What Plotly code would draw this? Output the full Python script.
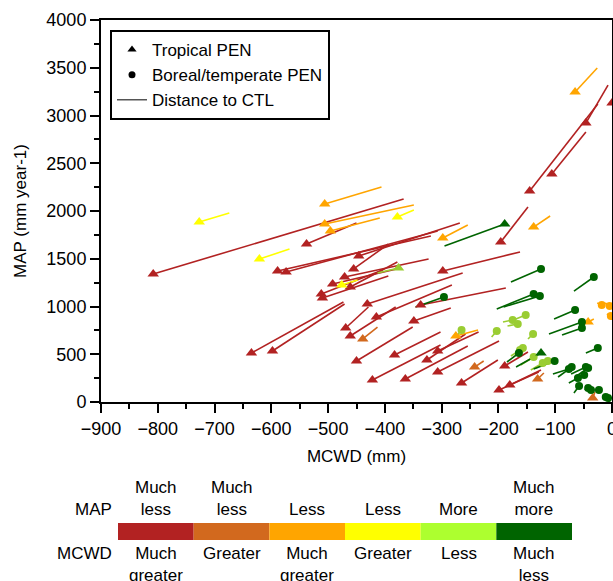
import plotly.graph_objects as go

# ---------------- data (PEN position and CTL position) ----------------
RED_TRI_X = [-808, -589, -574, -538, -446, -455, -471, -492, -461, -512, -510, -635, -598, -431, -415, -337, -349, -469,
             -461, -450, -383, -422, -364, -326, -307, -307, -265, -199, -180, -189, -196, -298, -145, -106, -46, 0]
RED_TRI_Y = [1340, 1372, 1361, 1654, 1529, 1393, 1309, 1236, 1204, 1131, 1089, 513, 534, 1026, 890, 1016, 848, 775,
             691, 429, 492, 230, 241, 440, 534, 314, 199, 126, 178, 377, 1675, 1372, 2209, 2387, 2921, 3131]
RED_TRI_X0 = [-367, -319, -307, -450, -268, -394, -323, -372, -378, -404, -394, -473, -471, -263, -282, -187, -284, -429,
              -381, -351, -302, -302, -254, -258, -235, -199, -201, -129, -125, -148, -148, -162, -25, -46, -7, 12]
RED_TRI_Y0 = [2126, 1738, 1791, 1874, 1874, 1654, 1497, 1403, 1466, 1382, 1319, 1047, 1026, 1351, 1225, 1194, 984, 995,
              995, 785, 733, 597, 586, 712, 733, 639, 440, 314, 335, 524, 2042, 1571, 3120, 2827, 3319, 3497]

CHOC_TRI_X = [-439, -242, -131, -34]
CHOC_TRI_Y = [660, 366, 241, 42]
CHOC_TRI_X0 = [-413, -226, -120, -30]
CHOC_TRI_Y0 = [785, 429, 304, 105]

ORANGE_TRI_X = [-506, -506, -496, -298, -138, -65, -275, -42]
ORANGE_TRI_Y = [2073, 1864, 1791, 1717, 1832, 3246, 691, 838]
ORANGE_TRI_X0 = [-406, -349, -409, -254, -109, -26, -236, -32]
ORANGE_TRI_Y0 = [2251, 2063, 1927, 1853, 1948, 3497, 754, 869]

ORANGE_CIRC_X = [-18, -4, -2]
ORANGE_CIRC_Y = [1016, 1005, 900]
ORANGE_CIRC_X0 = [-26, -12, -9]
ORANGE_CIRC_Y0 = [1037, 1037, 921]

YELLOW_TRI_X = [-727, -621, -378, -476]
YELLOW_TRI_Y = [1885, 1497, 1937, 1225]
YELLOW_TRI_X0 = [-674, -568, -349, -448]
YELLOW_TRI_Y0 = [1979, 1602, 2010, 1277]

LGREEN_TRI_X = [-376]
LGREEN_TRI_Y = [1403]
LGREEN_TRI_X0 = [-413]
LGREEN_TRI_Y0 = [1351]

LGREEN_CIRC_X = [-152, -175, -166, -265, -203, -139, -157, -162, -138, -113, -122]
LGREEN_CIRC_Y = [911, 859, 817, 754, 743, 712, 565, 544, 471, 429, 408]
LGREEN_CIRC_X0 = [-178, -192, -184, -275, -212, -148, -169, -178, -161, -134, -143]
LGREEN_CIRC_Y0 = [848, 838, 796, 681, 681, 660, 503, 482, 387, 356, 335]

DGREEN_TRI_X = [-189, -125]
DGREEN_TRI_Y = [1864, 513]
DGREEN_TRI_X0 = [-295, -169]
DGREEN_TRI_Y0 = [1633, 366]

DGREEN_CIRC_X = [-296, -125, -32, -138, -127, -65, -53, -53, -25, -164, -101, -71, -76, -46, -42, -60, -49, -58,
                 -42, -37, -23, -11, -7]
DGREEN_CIRC_Y = [1099, 1393, 1309, 1131, 1110, 963, 838, 775, 565, 513, 429, 366, 346, 366, 356, 251, 283, 168,
                 147, 126, 126, 52, 42]
DGREEN_CIRC_X0 = [-346, -178, -67, -203, -191, -102, -111, -88, -46, -185, -138, -95, -104, -72, -65, -76, -64, -67,
                  -48, -42, -28, -16, -12]
DGREEN_CIRC_Y0 = [995, 1257, 1162, 974, 995, 869, 712, 702, 513, 419, 346, 262, 293, 293, 262, 199, 220, 94,
                  126, 105, 105, 42, 31]

# colour key
KEY_COLORS = ["#B22222", "#D2691E", "#FFA500", "#FFFF00", "#ADFF2F", "#006400"]
MARK_COLORS = ["#B22222", "#D2691E", "#FFA500", "#FFFF00", "#9ACD32", "#006400"]
MAP_LABELS = ["Much<br>less", "Much<br>less", "Less", "Less", "More", "Much<br>more"]
MCWD_LABELS = ["Much<br>greater", "Greater", "Much<br>greater", "Greater", "Less", "Much<br>less"]

X_TICKS = [-900, -800, -700, -600, -500, -400, -300, -200, -100, 0]
Y_TICKS = [0, 500, 1000, 1500, 2000, 2500, 3000, 3500, 4000]

groups = [
    (RED_TRI_X, RED_TRI_Y, RED_TRI_X0, RED_TRI_Y0, "triangle-up", MARK_COLORS[0]),
    (CHOC_TRI_X, CHOC_TRI_Y, CHOC_TRI_X0, CHOC_TRI_Y0, "triangle-up", MARK_COLORS[1]),
    (ORANGE_TRI_X, ORANGE_TRI_Y, ORANGE_TRI_X0, ORANGE_TRI_Y0, "triangle-up", MARK_COLORS[2]),
    (ORANGE_CIRC_X, ORANGE_CIRC_Y, ORANGE_CIRC_X0, ORANGE_CIRC_Y0, "circle", MARK_COLORS[2]),
    (YELLOW_TRI_X, YELLOW_TRI_Y, YELLOW_TRI_X0, YELLOW_TRI_Y0, "triangle-up", MARK_COLORS[3]),
    (LGREEN_TRI_X, LGREEN_TRI_Y, LGREEN_TRI_X0, LGREEN_TRI_Y0, "triangle-up", MARK_COLORS[4]),
    (LGREEN_CIRC_X, LGREEN_CIRC_Y, LGREEN_CIRC_X0, LGREEN_CIRC_Y0, "circle", MARK_COLORS[4]),
    (DGREEN_TRI_X, DGREEN_TRI_Y, DGREEN_TRI_X0, DGREEN_TRI_Y0, "triangle-up", MARK_COLORS[5]),
    (DGREEN_CIRC_X, DGREEN_CIRC_Y, DGREEN_CIRC_X0, DGREEN_CIRC_Y0, "circle", MARK_COLORS[5]),
]

FONT = "Liberation Sans, Arial, sans-serif"
fig = go.Figure()

# distance lines
for xs, ys, x0s, y0s, sym, col in groups:
    lx, ly = [], []
    for a, b, c, d in zip(x0s, y0s, xs, ys):
        lx += [a, c, None]
        ly += [b, d, None]
    fig.add_trace(go.Scatter(x=lx, y=ly, mode="lines", line=dict(color=col, width=1.6),
                             showlegend=False, hoverinfo="skip"))

# PEN markers
for xs, ys, x0s, y0s, sym, col in groups:
    size = 10 if sym == "triangle-up" else 8
    fig.add_trace(go.Scatter(x=xs, y=ys, mode="markers",
                             marker=dict(symbol=sym, size=size, color=col, line=dict(width=0)),
                             showlegend=False))

# legend entries
fig.add_trace(go.Scatter(x=[None], y=[None], mode="markers", name="Tropical PEN",
                         marker=dict(symbol="triangle-up", size=8, color="black")))
fig.add_trace(go.Scatter(x=[None], y=[None], mode="markers", name="Boreal/temperate PEN",
                         marker=dict(symbol="circle", size=7, color="black")))
fig.add_trace(go.Scatter(x=[None], y=[None], mode="lines", name="Distance to CTL",
                         line=dict(color="#555555", width=1.5)))

# colour key below the plot (paper coordinates)
PLOT_W = 511.0
PLOT_H = 382.0
def px_x(pix):
    return (pix - 101) / PLOT_W
def px_y(pix):
    return (402 - pix) / PLOT_H

kx0, kx1 = px_x(118), px_x(572)
ky0, ky1 = px_y(540), px_y(523)
w = (kx1 - kx0) / len(KEY_COLORS)
shapes = []
annotations = []
KEY_FONT = dict(size=17, color="black", family=FONT)

for i, col in enumerate(KEY_COLORS):
    shapes.append(dict(type="rect", xref="paper", yref="paper", x0=kx0 + i * w, x1=kx0 + (i + 1) * w,
                       y0=ky0, y1=ky1, fillcolor=col, line=dict(width=0)))
    cx = kx0 + (i + 0.5) * w
    annotations.append(dict(x=cx, y=px_y(521), xref="paper", yref="paper", text=MAP_LABELS[i], showarrow=False,
                            xanchor="center", yanchor="bottom", font=KEY_FONT))
    annotations.append(dict(x=cx, y=px_y(542), xref="paper", yref="paper", text=MCWD_LABELS[i], showarrow=False,
                            xanchor="center", yanchor="top", font=KEY_FONT))

annotations.append(dict(x=px_x(114), y=px_y(521), xref="paper", yref="paper", text="MAP", showarrow=False,
                        xanchor="right", yanchor="bottom", font=KEY_FONT))
annotations.append(dict(x=px_x(114), y=px_y(542), xref="paper", yref="paper", text="MCWD", showarrow=False,
                        xanchor="right", yanchor="top", font=KEY_FONT))

fig.update_layout(
    width=613, height=581,
    margin=dict(l=101, r=1, t=20, b=179),
    paper_bgcolor="white", plot_bgcolor="white",
    font=dict(family=FONT, size=17, color="black"),
    shapes=shapes, annotations=annotations,
    legend=dict(x=px_x(110), y=px_y(30), xanchor="left", yanchor="top",
                bgcolor="white", bordercolor="black", borderwidth=2,
                font=dict(size=17, family=FONT, color="black")),
    xaxis=dict(range=[-900, 0], tickvals=X_TICKS, ticks="outside", ticklen=9, tickwidth=2,
               tickcolor="black", showline=True, linecolor="black", linewidth=2, mirror=True,
               showgrid=False, zeroline=False, tickfont=dict(size=18), automargin=False,
               ticklabeloverflow="allow",
               minor=dict(dtick=50, ticks="outside", ticklen=5, tickwidth=1.5, tickcolor="black", showgrid=False),
               title=dict(text="MCWD (mm)", font=dict(size=17), standoff=13)),
    yaxis=dict(range=[0, 4000], tickvals=Y_TICKS, ticks="outside", ticklen=9, tickwidth=2,
               tickcolor="black", showline=True, linecolor="black", linewidth=2, mirror=True,
               showgrid=False, zeroline=False, tickfont=dict(size=18), automargin=False,
               ticklabeloverflow="allow",
               minor=dict(dtick=250, ticks="outside", ticklen=5, tickwidth=1.5, tickcolor="black", showgrid=False),
               title=dict(text="MAP (mm year-1)", font=dict(size=17), standoff=15)),
)

fig.write_html("out.html", config={"displayModeBar": False},
               post_script="document.body.style.margin='0';document.body.style.overflow='hidden';")
